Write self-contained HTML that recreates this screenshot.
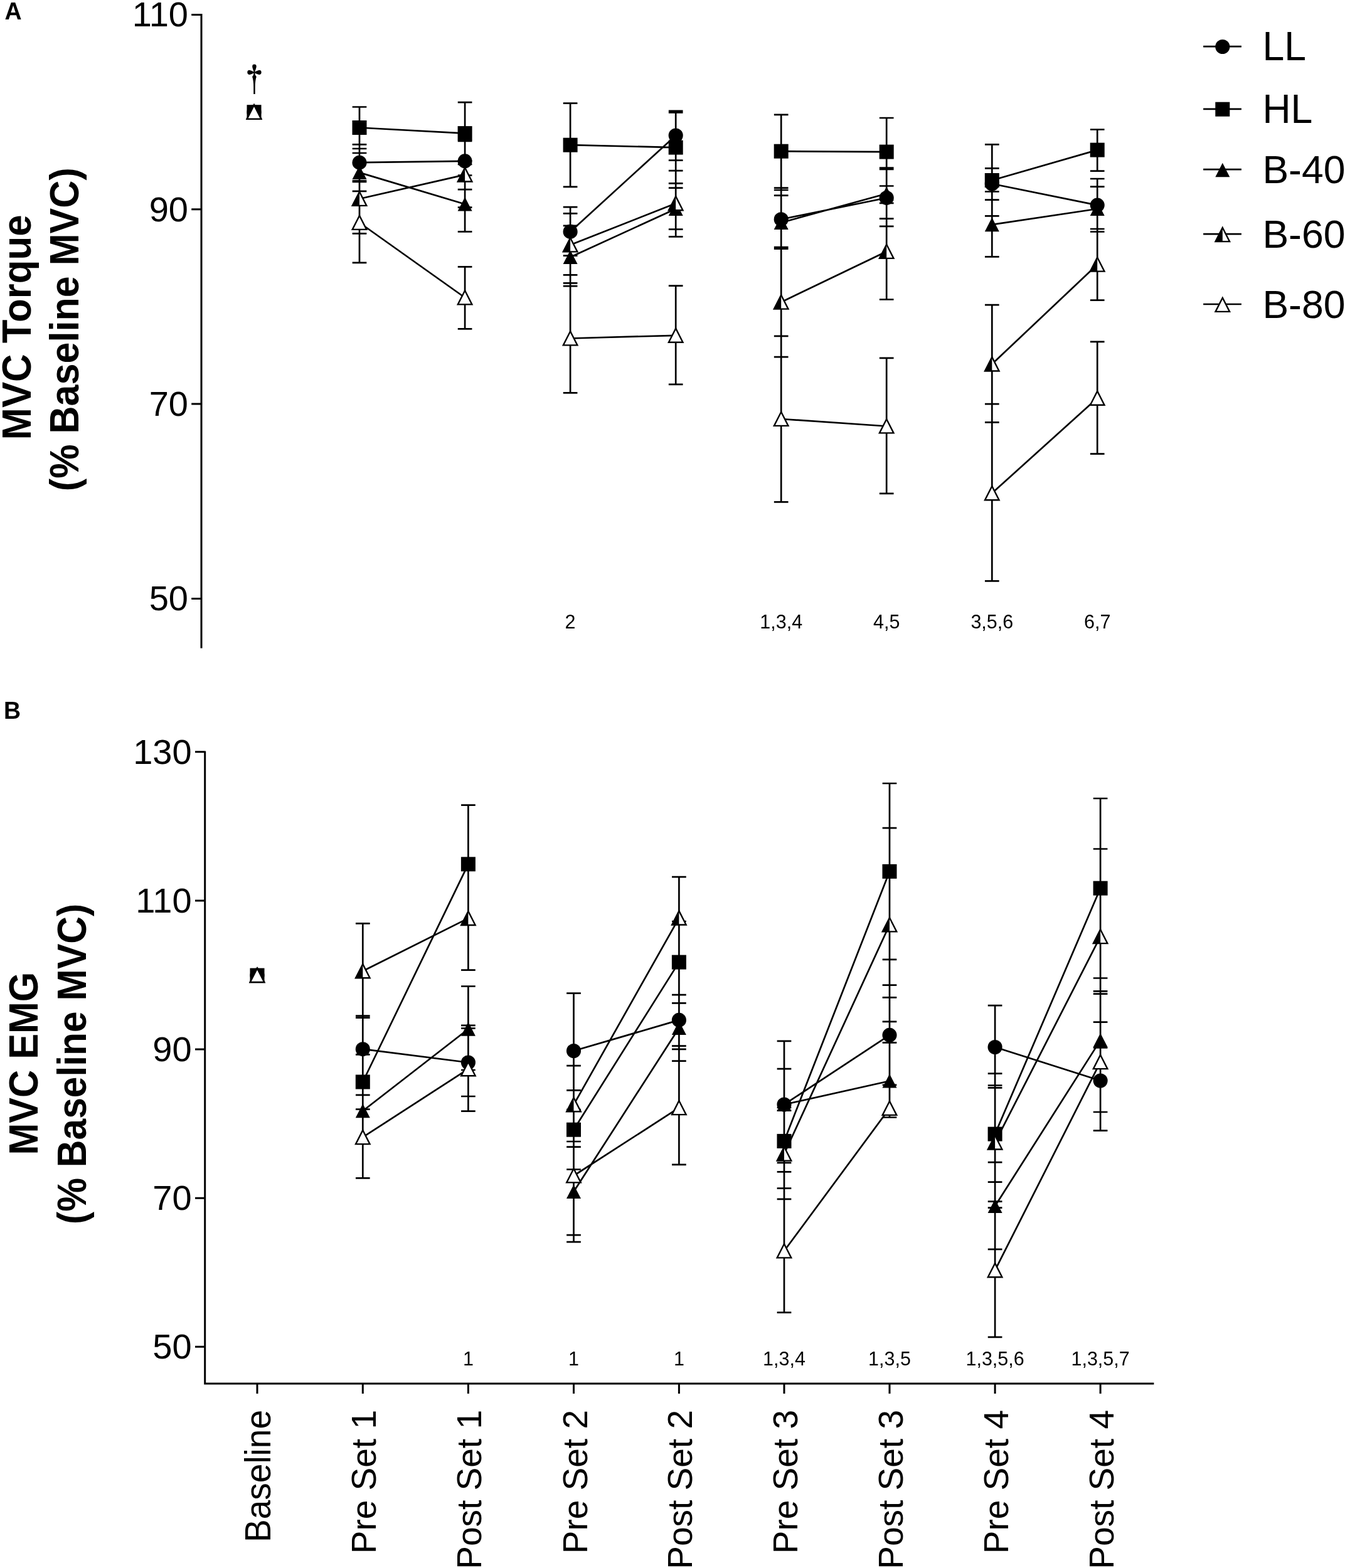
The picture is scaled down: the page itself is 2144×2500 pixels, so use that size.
<!DOCTYPE html>
<html><head><meta charset="utf-8"><title>MVC Torque and EMG</title>
<style>
html,body{margin:0;padding:0;background:#fff;}
svg{display:block;}
text{font-family:"Liberation Sans",Arial,sans-serif;fill:#000;}
.ax{fill:none;stroke:#000;stroke-width:3;}
.s{fill:none;stroke:#000;stroke-width:2.7;}
.o{fill:#fff;stroke:#000;stroke-width:2.4;}
.h{fill:none;stroke:#000;stroke-width:2.4;}
</style></head>
<body>
<svg width="2144" height="2500" viewBox="0 0 2144 2500">
<rect width="2144" height="2500" fill="#fff"/>
<path class="ax" d="M321 22V1033.5
M305.2 23.4H321
M305.2 333.7H321
M305.2 644H321
M305.2 954.4H321
"/>
<path class="ax" d="M326.7 1197.4V2206H1839.4M311 1198.8H326.7M311 1435.9H326.7M311 1673H326.7M311 1910.2H326.7M311 2147.3H326.7M410 2206V2222M578.3 2206V2222M746.4 2206V2222M914.5 2206V2222M1082.4 2206V2222M1250 2206V2222M1418 2206V2222M1586.1 2206V2222M1754.1 2206V2222"/>
<text transform="translate(300 42.4)" font-size="56" text-anchor="end">110</text>
<text transform="translate(300 352.7)" font-size="56" text-anchor="end">90</text>
<text transform="translate(300 663)" font-size="56" text-anchor="end">70</text>
<text transform="translate(300 973.4)" font-size="56" text-anchor="end">50</text>
<text transform="translate(305.6 1217.8)" font-size="56" text-anchor="end">130</text>
<text transform="translate(305.6 1454.9)" font-size="56" text-anchor="end">110</text>
<text transform="translate(305.6 1692)" font-size="56" text-anchor="end">90</text>
<text transform="translate(305.6 1929.2)" font-size="56" text-anchor="end">70</text>
<text transform="translate(305.6 2166.3)" font-size="56" text-anchor="end">50</text>
<text transform="translate(7.5 30.8) scale(1 1.04)" font-size="37.5" font-weight="bold" text-anchor="start">A</text>
<text transform="translate(6 1146) scale(1 1.04)" font-size="37.5" font-weight="bold" text-anchor="start">B</text>
<text transform="translate(48.5 522) rotate(-90) scale(1 1.04)" font-size="62.5" font-weight="bold" text-anchor="middle" textLength="359" lengthAdjust="spacingAndGlyphs">MVC Torque</text>
<text transform="translate(125.3 525.2) rotate(-90) scale(1 1.04)" font-size="62.5" font-weight="bold" text-anchor="middle" textLength="516" lengthAdjust="spacingAndGlyphs">(% Baseline MVC)</text>
<text transform="translate(59.9 1695.6) rotate(-90) scale(1 1.04)" font-size="62.5" font-weight="bold" text-anchor="middle" textLength="292" lengthAdjust="spacingAndGlyphs">MVC EMG</text>
<text transform="translate(136.7 1696.4) rotate(-90) scale(1 1.04)" font-size="62.5" font-weight="bold" text-anchor="middle" textLength="511" lengthAdjust="spacingAndGlyphs">(% Baseline MVC)</text>
<text transform="translate(431 2248) rotate(-90) scale(1 1.04)" font-size="55" text-anchor="end">Baseline</text>
<text transform="translate(599.3 2248) rotate(-90) scale(1 1.02)" font-size="55" text-anchor="end">Pre Set 1</text>
<text transform="translate(767.4 2248) rotate(-90) scale(1 1.02)" font-size="55" text-anchor="end">Post Set 1</text>
<text transform="translate(935.5 2248) rotate(-90) scale(1 1.02)" font-size="55" text-anchor="end">Pre Set 2</text>
<text transform="translate(1103.4 2248) rotate(-90) scale(1 1.02)" font-size="55" text-anchor="end">Post Set 2</text>
<text transform="translate(1271 2248) rotate(-90) scale(1 1.02)" font-size="55" text-anchor="end">Pre Set 3</text>
<text transform="translate(1439 2248) rotate(-90) scale(1 1.02)" font-size="55" text-anchor="end">Post Set 3</text>
<text transform="translate(1607.1 2248) rotate(-90) scale(1 1.02)" font-size="55" text-anchor="end">Pre Set 4</text>
<text transform="translate(1775.1 2248) rotate(-90) scale(1 1.02)" font-size="55" text-anchor="end">Post Set 4</text>
<text transform="translate(909.1 1002.1)" font-size="30.5" text-anchor="middle">2</text>
<text transform="translate(1245.2 1002.1)" font-size="30.5" text-anchor="middle">1,3,4</text>
<text transform="translate(1413.2 1002.1)" font-size="30.5" text-anchor="middle">4,5</text>
<text transform="translate(1581.3 1002.1)" font-size="30.5" text-anchor="middle">3,5,6</text>
<text transform="translate(1749.2 1002.1)" font-size="30.5" text-anchor="middle">6,7</text>
<text transform="translate(746.4 2177.3)" font-size="30.5" text-anchor="middle">1</text>
<text transform="translate(914.5 2177.3)" font-size="30.5" text-anchor="middle">1</text>
<text transform="translate(1082.4 2177.3)" font-size="30.5" text-anchor="middle">1</text>
<text transform="translate(1250 2177.3)" font-size="30.5" text-anchor="middle">1,3,4</text>
<text transform="translate(1418 2177.3)" font-size="30.5" text-anchor="middle">1,3,5</text>
<text transform="translate(1586.1 2177.3)" font-size="30.5" text-anchor="middle">1,3,5,6</text>
<text transform="translate(1754.1 2177.3)" font-size="30.5" text-anchor="middle">1,3,5,7</text>
<text transform="translate(405.45 146.8) scale(0.926 1)" font-size="52.8" text-anchor="middle" style="font-family:IPAGothic,Liberation Serif,serif">†</text>
<path class="s" d="M573 170.5V418.9M561.65 170.5H584.35M561.65 230.4H584.35M561.65 237H584.35M561.65 244H584.35M561.65 288.3H584.35M561.65 289.8H584.35M561.65 304.9H584.35M561.65 372.3H584.35M561.65 418.9H584.35M741.1 163.2V369.4M741.1 425.3V524.3M729.75 163.2H752.45M729.75 224.8H752.45M729.75 262H752.45M729.75 279.5H752.45M729.75 302.1H752.45M729.75 330.6H752.45M729.75 369.4H752.45M729.75 425.3H752.45M729.75 524.3H752.45M909.1 164.7V297.8M909.1 330.1V626.4M897.75 164.7H920.45M897.75 297.8H920.45M897.75 330.1H920.45M897.75 340.3H920.45M897.75 359.9H920.45M897.75 407.7H920.45M897.75 438.4H920.45M897.75 451.4H920.45M897.75 456.1H920.45M897.75 626.4H920.45M1077.2 176.8V377.4M1077.2 455.7V612.9M1065.85 176.8H1088.55M1065.85 179.5H1088.55M1065.85 255.7H1088.55M1065.85 272.2H1088.55M1065.85 292.3H1088.55M1065.85 299.6H1088.55M1065.85 365.6H1088.55M1065.85 377.4H1088.55M1065.85 455.7H1088.55M1065.85 612.9H1088.55M1245.2 182.9V800.4M1233.85 182.9H1256.55M1233.85 299.7H1256.55M1233.85 303H1256.55M1233.85 311.6H1256.55M1233.85 394H1256.55M1233.85 396.6H1256.55M1233.85 535.8H1256.55M1233.85 569.2H1256.55M1233.85 800.4H1256.55M1413.2 188V477.5M1413.2 570.8V786.9M1401.85 188H1424.55M1401.85 267.5H1424.55M1401.85 270H1424.55M1401.85 296.5H1424.55M1401.85 323.8H1424.55M1401.85 348.6H1424.55M1401.85 360.8H1424.55M1401.85 477.5H1424.55M1401.85 570.8H1424.55M1401.85 786.9H1424.55M1581.3 230.4V409.4M1581.3 486.1V926.3M1569.95 230.4H1592.65M1569.95 268.3H1592.65M1569.95 305.5H1592.65M1569.95 318.7H1592.65M1569.95 344.3H1592.65M1569.95 409.4H1592.65M1569.95 486.1H1592.65M1569.95 644.2H1592.65M1569.95 673.4H1592.65M1569.95 926.3H1592.65M1749.2 206.5V272.6M1749.2 285V478.6M1749.2 544.9V723.7M1737.85 206.5H1760.55M1737.85 272.6H1760.55M1737.85 285H1760.55M1737.85 297.7H1760.55M1737.85 365H1760.55M1737.85 369.5H1760.55M1737.85 478.6H1760.55M1737.85 544.9H1760.55M1737.85 723.7H1760.55"/>
<path class="s" d="M573 259.2L741.1 256.8M909.1 369.4L1077.2 216M1245.2 349.7L1413.2 315.45M1581.3 293L1749.2 327.1M573 203.5L741.1 212.6M909.1 231.2L1077.2 235.1M1245.2 241.2L1413.2 242.1M1581.3 287.5L1749.2 239.1M573 275.1L741.1 325.5M909.1 410L1077.2 333M1245.2 355L1413.2 308.8M1581.3 358.2L1749.2 333M573 317L741.1 278.6M909.1 390.5L1077.2 324.3M1245.2 481.7L1413.2 401M1581.3 580.6L1749.2 421.7M573 355L741.1 474.5M909.1 539.5L1077.2 534.8M1245.2 668L1413.2 679.5M1581.3 786.3L1749.2 634.8"/>
<circle cx="405" cy="178.7" r="11.55"/><rect x="393.5" y="167.2" width="23" height="23"/><path d="M405 167.35L416.5 189.7L393.5 189.7Z"/><path class="o" d="M405 167.5L416.25 189.6L393.75 189.6Z"/><path d="M405 167.5L405 189.6L393.75 189.6Z"/><path class="o" d="M405 167.5L416.25 189.6L393.75 189.6Z"/><circle cx="573" cy="259.2" r="11.55"/><rect x="561.5" y="192" width="23" height="23"/><path d="M573 263.75L584.5 286.1L561.5 286.1Z"/><path class="o" d="M573 305.8L584.25 327.9L561.75 327.9Z"/><path d="M573 305.8L573 327.9L561.75 327.9Z"/><path class="o" d="M573 343.8L584.25 365.9L561.75 365.9Z"/><circle cx="741.1" cy="256.8" r="11.55"/><rect x="729.6" y="201.1" width="23" height="23"/><path d="M741.1 314.15L752.6 336.5L729.6 336.5Z"/><path class="o" d="M741.1 267.4L752.35 289.5L729.85 289.5Z"/><path d="M741.1 267.4L741.1 289.5L729.85 289.5Z"/><path class="o" d="M741.1 463.3L752.35 485.4L729.85 485.4Z"/><circle cx="909.1" cy="369.4" r="11.55"/><rect x="897.6" y="219.7" width="23" height="23"/><path d="M909.1 398.65L920.6 421L897.6 421Z"/><path class="o" d="M909.1 379.3L920.35 401.4L897.85 401.4Z"/><path d="M909.1 379.3L909.1 401.4L897.85 401.4Z"/><path class="o" d="M909.1 528.3L920.35 550.4L897.85 550.4Z"/><circle cx="1077.2" cy="216" r="11.55"/><rect x="1065.7" y="223.6" width="23" height="23"/><path d="M1077.2 321.65L1088.7 344L1065.7 344Z"/><path class="o" d="M1077.2 313.1L1088.45 335.2L1065.95 335.2Z"/><path d="M1077.2 313.1L1077.2 335.2L1065.95 335.2Z"/><path class="o" d="M1077.2 523.6L1088.45 545.7L1065.95 545.7Z"/><circle cx="1245.2" cy="349.7" r="11.55"/><rect x="1233.7" y="229.7" width="23" height="23"/><path d="M1245.2 343.65L1256.7 366L1233.7 366Z"/><path class="o" d="M1245.2 470.5L1256.45 492.6L1233.95 492.6Z"/><path d="M1245.2 470.5L1245.2 492.6L1233.95 492.6Z"/><path class="o" d="M1245.2 656.8L1256.45 678.9L1233.95 678.9Z"/><circle cx="1413.2" cy="315.45" r="11.55"/><rect x="1401.7" y="230.6" width="23" height="23"/><path d="M1413.2 297.45L1424.7 319.8L1401.7 319.8Z"/><path class="o" d="M1413.2 389.8L1424.45 411.9L1401.95 411.9Z"/><path d="M1413.2 389.8L1413.2 411.9L1401.95 411.9Z"/><path class="o" d="M1413.2 668.3L1424.45 690.4L1401.95 690.4Z"/><circle cx="1581.3" cy="293" r="11.55"/><rect x="1569.8" y="276" width="23" height="23"/><path d="M1581.3 346.85L1592.8 369.2L1569.8 369.2Z"/><path class="o" d="M1581.3 569.4L1592.55 591.5L1570.05 591.5Z"/><path d="M1581.3 569.4L1581.3 591.5L1570.05 591.5Z"/><path class="o" d="M1581.3 775.1L1592.55 797.2L1570.05 797.2Z"/><circle cx="1749.2" cy="327.1" r="11.55"/><rect x="1737.7" y="227.6" width="23" height="23"/><path d="M1749.2 321.65L1760.7 344L1737.7 344Z"/><path class="o" d="M1749.2 410.5L1760.45 432.6L1737.95 432.6Z"/><path d="M1749.2 410.5L1749.2 432.6L1737.95 432.6Z"/><path class="o" d="M1749.2 623.6L1760.45 645.7L1737.95 645.7Z"/>
<path class="s" d="M578.3 1472.4V1878.4M566.95 1472.4H589.65M566.95 1619.6H589.65M566.95 1622.7H589.65M566.95 1681.3H589.65M566.95 1745.8H589.65M566.95 1768.7H589.65M566.95 1878.4H589.65M746.4 1283.6V1546.7M746.4 1572.5V1771.6M735.05 1283.6H757.75M735.05 1546.7H757.75M735.05 1572.5H757.75M735.05 1634.9H757.75M735.05 1639.5H757.75M735.05 1706H757.75M735.05 1748H757.75M735.05 1771.6H757.75M914.5 1583.6V1980.2M903.15 1583.6H925.85M903.15 1699.1H925.85M903.15 1738.3H925.85M903.15 1769H925.85M903.15 1820H925.85M903.15 1828.7H925.85M903.15 1864.5H925.85M903.15 1969.2H925.85M903.15 1980.2H925.85M1082.4 1398.2V1856.8M1071.05 1398.2H1093.75M1071.05 1469H1093.75M1071.05 1586.2H1093.75M1071.05 1599.3H1093.75M1071.05 1667.7H1093.75M1071.05 1672.8H1093.75M1071.05 1691.6H1093.75M1071.05 1856.8H1093.75M1250 1659.9V2092.6M1238.65 1659.9H1261.35M1238.65 1704.1H1261.35M1238.65 1766H1261.35M1238.65 1770.5H1261.35M1238.65 1853.9H1261.35M1238.65 1868.4H1261.35M1238.65 1894.6H1261.35M1238.65 1911.9H1261.35M1238.65 2092.6H1261.35M1418 1249V1781.5M1406.65 1249H1429.35M1406.65 1320.1H1429.35M1406.65 1529.9H1429.35M1406.65 1570.7H1429.35M1406.65 1590.3H1429.35M1406.65 1628.9H1429.35M1406.65 1662.4H1429.35M1406.65 1729.8H1429.35M1406.65 1781.5H1429.35M1586.1 1603.2V2131.9M1574.75 1603.2H1597.45M1574.75 1711.6H1597.45M1574.75 1730.5H1597.45M1574.75 1734.3H1597.45M1574.75 1853.2H1597.45M1574.75 1884.6H1597.45M1574.75 1915.7H1597.45M1574.75 1925.7H1597.45M1574.75 1991.9H1597.45M1574.75 2131.9H1597.45M1754.1 1273V1802.7M1742.75 1273H1765.45M1742.75 1353.5H1765.45M1742.75 1559.5H1765.45M1742.75 1580.3H1765.45M1742.75 1584.6H1765.45M1742.75 1629.7H1765.45M1742.75 1670.3H1765.45M1742.75 1773H1765.45M1742.75 1802.7H1765.45"/>
<path class="s" d="M578.3 1672.7L746.4 1694M914.5 1675.5L1082.4 1626.4M1250 1761L1418 1650.3M1586.1 1669.5L1754.1 1723M578.3 1725L746.4 1377.8M914.5 1801.2L1082.4 1534.1M1250 1819.4L1418 1389.4M1586.1 1808.1L1754.1 1416.2M578.3 1771.2L746.4 1640.7M914.5 1900L1082.4 1639M1250 1761L1418 1723.5M1586.1 1923L1754.1 1658.6M578.3 1548.3L746.4 1464.1M914.5 1761.3L1082.4 1463.6M1250 1839.75L1418 1474.5M1586.1 1821.6L1754.1 1493.2M578.3 1813.2L746.4 1704.3M914.5 1874.5L1082.4 1766.2M1250 1994.5L1418 1767M1586.1 2025.3L1754.1 1693.2"/>
<circle cx="410" cy="1555.1" r="11.55"/><rect x="398.5" y="1543.6" width="23" height="23"/><path d="M410 1543.75L421.5 1566.1L398.5 1566.1Z"/><path class="o" d="M410 1543.9L421.25 1566L398.75 1566Z"/><path d="M410 1543.9L410 1566L398.75 1566Z"/><path class="o" d="M410 1543.9L421.25 1566L398.75 1566Z"/><circle cx="578.3" cy="1672.7" r="11.55"/><rect x="566.8" y="1713.5" width="23" height="23"/><path d="M578.3 1759.85L589.8 1782.2L566.8 1782.2Z"/><path class="o" d="M578.3 1537.1L589.55 1559.2L567.05 1559.2Z"/><path d="M578.3 1537.1L578.3 1559.2L567.05 1559.2Z"/><path class="o" d="M578.3 1802L589.55 1824.1L567.05 1824.1Z"/><circle cx="746.4" cy="1694" r="11.55"/><rect x="734.9" y="1366.3" width="23" height="23"/><path d="M746.4 1629.35L757.9 1651.7L734.9 1651.7Z"/><path class="o" d="M746.4 1452.9L757.65 1475L735.15 1475Z"/><path d="M746.4 1452.9L746.4 1475L735.15 1475Z"/><path class="o" d="M746.4 1693.1L757.65 1715.2L735.15 1715.2Z"/><circle cx="914.5" cy="1675.5" r="11.55"/><rect x="903" y="1789.7" width="23" height="23"/><path d="M914.5 1888.65L926 1911L903 1911Z"/><path class="o" d="M914.5 1750.1L925.75 1772.2L903.25 1772.2Z"/><path d="M914.5 1750.1L914.5 1772.2L903.25 1772.2Z"/><path class="o" d="M914.5 1863.3L925.75 1885.4L903.25 1885.4Z"/><circle cx="1082.4" cy="1626.4" r="11.55"/><rect x="1070.9" y="1522.6" width="23" height="23"/><path d="M1082.4 1627.65L1093.9 1650L1070.9 1650Z"/><path class="o" d="M1082.4 1452.4L1093.65 1474.5L1071.15 1474.5Z"/><path d="M1082.4 1452.4L1082.4 1474.5L1071.15 1474.5Z"/><path class="o" d="M1082.4 1755L1093.65 1777.1L1071.15 1777.1Z"/><circle cx="1250" cy="1761" r="11.55"/><rect x="1238.5" y="1807.9" width="23" height="23"/><path d="M1250 1749.65L1261.5 1772L1238.5 1772Z"/><path class="o" d="M1250 1828.55L1261.25 1850.65L1238.75 1850.65Z"/><path d="M1250 1828.55L1250 1850.65L1238.75 1850.65Z"/><path class="o" d="M1250 1983.3L1261.25 2005.4L1238.75 2005.4Z"/><circle cx="1418" cy="1650.3" r="11.55"/><rect x="1406.5" y="1377.9" width="23" height="23"/><path d="M1418 1712.15L1429.5 1734.5L1406.5 1734.5Z"/><path class="o" d="M1418 1463.3L1429.25 1485.4L1406.75 1485.4Z"/><path d="M1418 1463.3L1418 1485.4L1406.75 1485.4Z"/><path class="o" d="M1418 1755.8L1429.25 1777.9L1406.75 1777.9Z"/><circle cx="1586.1" cy="1669.5" r="11.55"/><rect x="1574.6" y="1796.6" width="23" height="23"/><path d="M1586.1 1911.65L1597.6 1934L1574.6 1934Z"/><path class="o" d="M1586.1 1810.4L1597.35 1832.5L1574.85 1832.5Z"/><path d="M1586.1 1810.4L1586.1 1832.5L1574.85 1832.5Z"/><path class="o" d="M1586.1 2014.1L1597.35 2036.2L1574.85 2036.2Z"/><circle cx="1754.1" cy="1723" r="11.55"/><rect x="1742.6" y="1404.7" width="23" height="23"/><path d="M1754.1 1647.25L1765.6 1669.6L1742.6 1669.6Z"/><path class="o" d="M1754.1 1482L1765.35 1504.1L1742.85 1504.1Z"/><path d="M1754.1 1482L1754.1 1504.1L1742.85 1504.1Z"/><path class="o" d="M1754.1 1682L1765.35 1704.1L1742.85 1704.1Z"/>
<path class="s" d="M1918.1 74.2H1978.9"/><circle cx="1948.8" cy="74.5" r="11.55"/><text transform="translate(2012.4 96.2) scale(1 1.04)" font-size="62.5" text-anchor="start">LL</text><path class="s" d="M1918.1 173.9H1978.9"/><rect x="1937.3" y="162.7" width="23" height="23"/><text transform="translate(2012.4 195.9) scale(1 1.04)" font-size="62.5" text-anchor="start">HL</text><path class="s" d="M1918.1 270.2H1978.9"/><path d="M1948.8 259.85L1960.3 282.2L1937.3 282.2Z"/><text transform="translate(2012.4 292.2) scale(1 1.02)" font-size="62.5" text-anchor="start">B-40</text><path class="s" d="M1918.1 373.2H1978.9"/><path class="o" d="M1948.8 363L1960.05 385.1L1937.55 385.1Z"/><path d="M1948.8 363L1948.8 385.1L1937.55 385.1Z"/><text transform="translate(2012.4 395.2) scale(1 1.02)" font-size="62.5" text-anchor="start">B-60</text><path class="s" d="M1918.1 485H1978.9"/><path class="o" d="M1948.8 474.8L1960.05 496.9L1937.55 496.9Z"/><text transform="translate(2012.4 507) scale(1 1.02)" font-size="62.5" text-anchor="start">B-80</text>
</svg>
</body></html>
